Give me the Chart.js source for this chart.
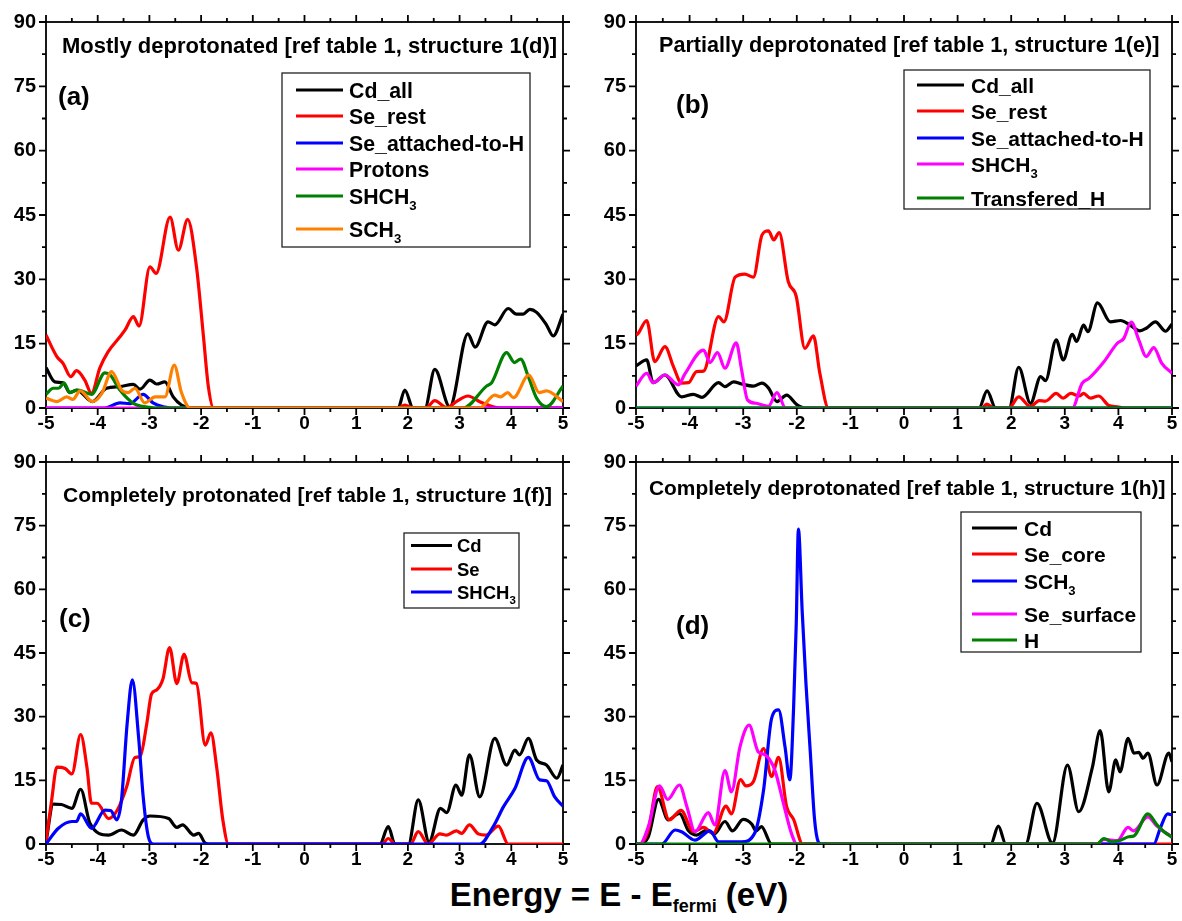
<!DOCTYPE html>
<html>
<head>
<meta charset="utf-8">
<script src="https://cdn.jsdelivr.net/npm/chart.js@4.4.1/dist/chart.umd.min.js"></script>
<style>
html, body { margin: 0; padding: 0; background: #fff; }
#page { position: relative; width: 1182px; height: 921px; overflow: hidden; font-family: "Liberation Sans", Arial, sans-serif; }
.panel { position: absolute; }
#xTitle { position: absolute; left: 0; width: 1238px; top: 880px; text-align: center; font-weight: bold; font-size: 33px; line-height: 30px; }
#xTitle sub { font-size: 18px; vertical-align: -6px; line-height: 0; }
</style>
</head>
<body>
<div id="page">
  <div class="panel" style="left:0;top:0;width:585px;height:440px"><canvas id="ca"></canvas></div>
  <div class="panel" style="left:585px;top:0;width:597px;height:440px"><canvas id="cb"></canvas></div>
  <div class="panel" style="left:0;top:440px;width:585px;height:436px"><canvas id="cc"></canvas></div>
  <div class="panel" style="left:585px;top:440px;width:597px;height:436px"><canvas id="cd"></canvas></div>
  <div id="xTitle">Energy = E - E<sub>fermi</sub> (eV)</div>
</div>
<script>
// energy axis and DOS axis ticks
const xTicks = [-5, -4, -3, -2, -1, 0, 1, 2, 3, 4, 5];
const yTicks = [0, 15, 30, 45, 60, 75, 90];

// ---- (a) mostly deprotonated ----
const aCdX = [-5, -4.83, -4.67, -4.54, -4.41, -4.1, -3.83, -3.57, -3.31, -3.18, -2.99, -2.86, -2.7, -2.54, -2.38, -2.19, 1.81, 1.94, 2.1, 2.33, 2.52, 2.81, 3.16, 3.3, 3.55, 3.68, 3.94, 4.1, 4.23, 4.36, 4.49, 4.68, 4.81, 5];
const aCdY = [9.4, 6.1, 5.9, 3.6, 4.2, 1.5, 4.6, 5.0, 5.5, 4.4, 6.5, 5.6, 6.1, 2.6, 0.7, 0, 0, 4.2, 0, 0, 9.0, 0.3, 17.3, 14.2, 20.1, 19.4, 23.2, 21.9, 21.9, 23, 22.3, 19.4, 16.8, 21.9];
const aSeX = [-5, -4.79, -4.67, -4.52, -4.41, -4.25, -4.12, -3.96, -3.8, -3.57, -3.47, -3.31, -3.2, -2.99, -2.87, -2.6, -2.44, -2.26, -2.09, -1.96, -1.86, -1.76, 1.8, 1.94, 2.1, 2.35, 2.52, 2.75, 2.95, 3.16, 3.4, 3.65, 3.8, 5];
const aSeY = [17.0, 12, 10.4, 7.3, 8.7, 6.5, 3.4, 9.3, 13.1, 16.6, 18.2, 21.3, 19.1, 32.9, 31.4, 44.5, 36.8, 44, 33, 17.4, 5, 0, 0, 0.7, 0, 0, 1.7, 0.1, 1.6, 2.8, 1.4, 0.3, 0, 0];
const aSeHX = [-5, -3.86, -3.57, -3.38, -3.12, -2.93, -2.7, -2.6, 5];
const aSeHY = [0, 0, 1.2, 1.0, 3.2, 1.2, 0.2, 0, 0];
const aProX = [-5, 5];
const aProY = [0, 0];
const aShX = [-5, -4.86, -4.76, -4.65, -4.54, -4.38, -4.12, -3.86, -3.76, -3.57, -3.31, -3.05, -2.9, 3.07, 3.52, 3.62, 3.91, 4.06, 4.18, 4.33, 4.49, 4.68, 5];
const aShY = [3.2, 4.6, 4.6, 5.8, 3.6, 4.2, 3.2, 8.2, 7.7, 4.2, 1.1, 0.2, 0, 0, 5.1, 5.9, 12.9, 10.6, 11.4, 7.3, 2.3, 0.3, 5.1];
const aSchX = [-5, -4.79, -4.6, -4.48, -4.34, -4.1, -3.92, -3.73, -3.54, -3.41, -3.28, -3.09, -2.89, -2.7, -2.52, -2.38, -2.21, 3.39, 3.68, 3.79, 3.93, 4.04, 4.34, 4.54, 4.68, 5];
const aSchY = [2.3, 1.5, 2.6, 2.0, 4.0, 1.5, 3.4, 8.5, 4.2, 3.6, 4.6, 1.2, 2.6, 2.6, 10.0, 3.6, 0, 0, 3.0, 2.6, 3.6, 2.4, 7.7, 3.6, 4.0, 1.5];

// ---- (b) partially deprotonated ----
const bCdX = [-5, -4.8, -4.68, -4.46, -4.15, -3.93, -3.77, -3.46, -3.34, -3.18, -3.03, -2.81, -2.65, -2.53, -2.37, -2.19, -2.0, -1.85, 1.4, 1.55, 1.71, 1.96, 2.14, 2.36, 2.55, 2.64, 2.84, 2.97, 3.14, 3.22, 3.35, 3.43, 3.61, 3.85, 4.04, 4.22, 4.4, 4.52, 4.69, 4.88, 5];
const bCdY = [9.8, 11.2, 5.9, 7.7, 2.6, 3.2, 2.5, 5.9, 5.0, 6.1, 5.6, 5.1, 5.8, 4.7, 1.5, 3.0, 0.8, 0, 0, 4.0, 0, 0, 9.5, 1.1, 7.3, 6.4, 15.9, 11.2, 17.2, 15.5, 19.3, 17.8, 24.5, 20.1, 20.4, 19.3, 18.0, 18.6, 20.1, 17.9, 19.6];
const bSeX = [-5, -4.96, -4.8, -4.65, -4.46, -4.3, -4.15, -4.02, -3.87, -3.74, -3.46, -3.36, -3.15, -2.97, -2.81, -2.65, -2.53, -2.43, -2.33, -2.16, -2.01, -1.85, -1.69, -1.57, -1.41, 1.46, 1.54, 1.68, 1.96, 2.14, 2.36, 2.52, 2.64, 2.84, 2.97, 3.11, 3.27, 3.35, 3.48, 3.63, 3.82, 3.98, 4.1, 5];
const bSeY = [17.0, 17.4, 20.4, 10.8, 14.3, 9.6, 5.8, 5.9, 8.5, 8.6, 21.3, 20.1, 30.5, 31.2, 30.5, 40.3, 41.3, 39.2, 40.9, 29.5, 26, 13.9, 16.8, 8.1, 0, 0, 0.9, 0, 0, 2.6, 0.3, 1.7, 1.6, 3.4, 2.3, 3.4, 2.8, 3.4, 2.3, 2.8, 0.6, 0.3, 0, 0];
const bSeHX = [-5, 5];
const bSeHY = [0, 0];
const bShX = [-5, -4.8, -4.68, -4.46, -4.21, -4.09, -3.74, -3.62, -3.48, -3.34, -3.13, -3.03, -2.92, -2.76, -2.53, -2.37, -2.21, 3.14, 3.32, 3.45, 3.73, 3.98, 4.1, 4.24, 4.38, 4.52, 4.66, 4.81, 5];
const bShY = [5.1, 8.1, 5.9, 7.7, 5.4, 7.9, 13.5, 10.6, 12.9, 9.3, 15.2, 8.9, 1.9, 1.1, 0.4, 3.6, 0, 0, 5.7, 6.9, 10.8, 15.1, 16.2, 20.0, 15.9, 12.0, 14.1, 10.4, 8.1];
const bTrX = [-5, 5];
const bTrY = [0, 0];

// ---- (c) completely protonated ----
const cCdX = [-5, -4.86, -4.7, -4.5, -4.33, -4.15, -3.79, -3.54, -3.31, -3.12, -2.99, -2.63, -2.47, -2.36, -2.14, -2.05, -1.92, -1.85, 1.46, 1.62, 1.75, 2.01, 2.2, 2.41, 2.63, 2.75, 2.93, 3.04, 3.19, 3.39, 3.68, 3.91, 4.07, 4.16, 4.33, 4.49, 4.68, 4.88, 5];
const cCdY = [0.5, 9.4, 9.3, 8.4, 12.9, 4.9, 2.1, 3.3, 2.1, 5.7, 6.6, 6.0, 3.9, 4.5, 2.1, 2.5, 0.2, 0, 0, 4.1, 0, 0, 10.4, 0.5, 8.4, 7.4, 13.9, 11.5, 21.0, 11.1, 24.9, 18.6, 22.1, 21.0, 24.9, 19.8, 18.6, 15.5, 18.6];
const cSeX = [-5, -4.89, -4.79, -4.63, -4.5, -4.33, -4.21, -4.12, -4.01, -3.79, -3.62, -3.44, -3.28, -3.18, -3.05, -2.96, -2.86, -2.74, -2.61, -2.47, -2.33, -2.18, -2.09, -1.92, -1.81, -1.7, -1.58, -1.47, 1.5, 1.62, 1.75, 2.05, 2.2, 2.39, 2.62, 2.75, 2.94, 3.04, 3.19, 3.36, 3.51, 3.75, 3.94, 5];
const cSeY = [0.5, 10.4, 18.1, 17.8, 16.5, 25.8, 18.2, 9.6, 9.6, 6.0, 8.0, 13.5, 20.4, 20.6, 28.4, 35.3, 36.3, 38.8, 46.3, 37.8, 44.7, 38.0, 37.8, 23.3, 26.2, 18.2, 5.7, 0, 0, 1.3, 0, 0, 2.9, 0, 2.4, 2.1, 3.1, 2.5, 4.5, 2.4, 2.1, 4.2, 0, 0];
const cShX = [-5, -4.76, -4.5, -4.41, -4.33, -4.12, -3.86, -3.75, -3.63, -3.54, -3.43, -3.33, -3.21, -3.12, -3.02, -2.92, 3.39, 3.65, 3.85, 4.07, 4.33, 4.55, 4.68, 4.84, 5];
const cShY = [0, 3.7, 5.3, 5.3, 7.1, 3.7, 8.0, 7.9, 5.7, 10.4, 28.4, 38.7, 25.3, 11.1, 1.7, 0, 0, 4.1, 8.8, 13.1, 20.4, 15.1, 14.9, 11.1, 8.9];

// ---- (d) completely deprotonated ----
const dCdX = [-5, -4.93, -4.77, -4.58, -4.4, -4.19, -4.02, -3.87, -3.68, -3.54, -3.34, -3.2, -3.0, -2.84, -2.76, -2.66, -2.47, 1.62, 1.76, 1.9, 2.27, 2.48, 2.77, 3.05, 3.26, 3.51, 3.66, 3.82, 3.95, 4.03, 4.18, 4.29, 4.38, 4.46, 4.55, 4.72, 4.94, 5];
const dCdY = [0, 0, 1.7, 10.5, 5.7, 7.2, 3.1, 2.1, 3.3, 2.4, 5.3, 3.1, 5.8, 4.7, 3.1, 4.1, 0, 0, 4.2, 0, 0, 9.6, 0.2, 18.6, 7.6, 17.8, 26.7, 12.3, 19.8, 17.0, 24.9, 21.4, 21.6, 20.2, 21.4, 13.9, 21.4, 19.4];
const dCoreX = [-5, -4.93, -4.77, -4.6, -4.38, -4.16, -3.93, -3.74, -3.56, -3.32, -3.22, -3.05, -2.95, -2.81, -2.62, -2.47, -2.34, -2.19, -2.06, -1.89, 5];
const dCoreY = [0, 0, 3.3, 13.5, 5.7, 7.9, 2.9, 3.9, 2.5, 8.9, 7.1, 15.2, 13.7, 14.7, 22.5, 15.9, 20.4, 8.8, 5.8, 0, 0];
const dSchX = [-5, -4.52, -4.27, -4.15, -3.9, -3.62, -3.46, -3.03, -2.78, -2.62, -2.47, -2.34, -2.22, -2.13, -2.06, -2.01, -1.97, -1.9, -1.83, -1.75, -1.67, -1.6, -1.55, 4.66, 4.78, 4.92, 5];
const dSchY = [0, 0, 3.3, 2.9, 0.9, 3.1, 0.5, 0.5, 2.7, 12.7, 29.6, 31.6, 22.9, 15.1, 32, 52, 74.2, 55, 38, 22, 6, 0.5, 0, 0, 3.7, 7.1, 6.8];
const dSurfX = [-5, -4.93, -4.77, -4.56, -4.41, -4.19, -4.05, -3.9, -3.65, -3.53, -3.34, -3.22, -3.06, -2.89, -2.72, -2.59, -2.41, -2.25, -2.1, -2.0, 3.6, 3.73, 3.98, 4.18, 4.28, 4.55, 4.72, 5];
const dSurfY = [0, 0, 4.1, 13.7, 10.5, 13.9, 8.8, 2.9, 7.4, 4.5, 17.3, 12.3, 22.9, 28.0, 21.7, 21.0, 17.4, 9.6, 2.5, 0, 0, 1.1, 0.8, 3.9, 3.1, 6.4, 4.2, 1.6];
const dHX = [-5, 3.6, 3.73, 3.88, 4.04, 4.19, 4.29, 4.55, 4.72, 4.85, 5];
const dHY = [0, 0, 1.3, 0.5, 0.9, 1.7, 1.9, 7.1, 4.5, 2.9, 1.6];

const BLACK = '#000000', RED = '#ff0000', BLUE = '#0000ff', MAGENTA = '#ff00ff', GREEN = '#008000', ORANGE = '#ff8000';
const FONT = '"Liberation Sans", Arial, sans-serif';

// layout of the four panels, page pixels
const PANELS = [
    {
        canvas: 'ca', offX: 0, offY: 0, yWidth: 46, padRight: 22,
        title: 'Mostly deprotonated [ref table 1, structure 1(d)]', titleX: 62, titleY: 53, titleSize: 22,
        tag: '(a)', tagX: 58, tagY: 105,
        legend: { box: [282, 73, 530, 247], rows: [90, 116, 143, 169, 196, 229], line: [296, 343], textX: 349, size: 21.3 },
        series: [
            ['Cd_all', BLACK, aCdX, aCdY],
            ['Se_rest', RED, aSeX, aSeY],
            ['Se_attached-to-H', BLUE, aSeHX, aSeHY],
            ['Protons', MAGENTA, aProX, aProY],
            ['SHCH{3}', GREEN, aShX, aShY],
            ['SCH{3}', ORANGE, aSchX, aSchY]
        ]
    },
    {
        canvas: 'cb', offX: 585, offY: 0, yWidth: 51, padRight: 10,
        title: 'Partially deprotonated [ref table 1, structure 1(e)]', titleX: 659, titleY: 52, titleSize: 21.6,
        tag: '(b)', tagX: 676, tagY: 113,
        legend: { box: [904, 70, 1150, 209], rows: [85, 111, 138, 164, 198], line: [917, 964], textX: 971, size: 21 },
        series: [
            ['Cd_all', BLACK, bCdX, bCdY],
            ['Se_rest', RED, bSeX, bSeY],
            ['Se_attached-to-H', BLUE, bSeHX, bSeHY],
            ['SHCH{3}', MAGENTA, bShX, bShY],
            ['Transfered_H', GREEN, bTrX, bTrY]
        ]
    },
    {
        canvas: 'cc', offX: 0, offY: 440, yWidth: 46, padRight: 22,
        title: 'Completely protonated [ref table 1, structure 1(f)]', titleX: 63, titleY: 502, titleSize: 21,
        tag: '(c)', tagX: 59, tagY: 627,
        legend: { box: [404, 533, 519, 608], rows: [545.5, 569, 592], line: [411, 452], textX: 457, size: 18.5 },
        series: [
            ['Cd', BLACK, cCdX, cCdY],
            ['Se', RED, cSeX, cSeY],
            ['SHCH{3}', BLUE, cShX, cShY]
        ]
    },
    {
        canvas: 'cd', offX: 585, offY: 440, yWidth: 51, padRight: 10,
        title: 'Completely deprotonated [ref table 1, structure 1(h)]', titleX: 649, titleY: 495, titleSize: 20.9,
        tag: '(d)', tagX: 676, tagY: 634,
        legend: { box: [961, 512, 1141, 652], rows: [528, 554, 581, 614, 640], line: [972, 1017], textX: 1024, size: 21 },
        series: [
            ['Cd', BLACK, dCdX, dCdY],
            ['Se_core', RED, dCoreX, dCoreY],
            ['SCH{3}', BLUE, dSchX, dSchY],
            ['Se_surface', MAGENTA, dSurfX, dSurfY],
            ['H', GREEN, dHX, dHY]
        ]
    }
];

function toPoints(xs, ys) {
    return xs.map(function (x, i) { return { x: x, y: ys[i] }; });
}

// text with {subscript} parts
function drawRich(ctx, text, x, y, size) {
    let cx = x;
    text.split(/(\{[^}]*\})/).forEach(function (part) {
        if (!part) return;
        if (part[0] === '{') {
            const s = part.slice(1, -1);
            ctx.font = 'bold ' + (size * 0.62) + 'px ' + FONT;
            ctx.fillText(s, cx, y + size * 0.3);
            cx += ctx.measureText(s).width;
        } else {
            ctx.font = 'bold ' + size + 'px ' + FONT;
            ctx.fillText(part, cx, y);
            cx += ctx.measureText(part).width;
        }
    });
}

function makeDecor(panel) {
    return {
        id: 'decor_' + panel.canvas,
        beforeDatasetsDraw: function (chart) {
            const ctx = chart.ctx, a = chart.chartArea;
            const xs = chart.scales.x, ys = chart.scales.y;
            ctx.save();
            ctx.strokeStyle = '#000';
            ctx.lineWidth = 1.8;
            ctx.strokeRect(a.left, a.top, a.right - a.left, a.bottom - a.top);
            ctx.beginPath();
            for (let k = 0; k <= 20; k++) {
                const px = xs.getPixelForValue(-5 + k * 0.5);
                const len = k % 2 === 0 ? 7 : 4;
                ctx.moveTo(px, a.bottom); ctx.lineTo(px, a.bottom + len);
                ctx.moveTo(px, a.top); ctx.lineTo(px, a.top - len);
            }
            for (let k = 0; k <= 12; k++) {
                const py = ys.getPixelForValue(k * 7.5);
                const len = k % 2 === 0 ? 7 : 4;
                ctx.moveTo(a.left, py); ctx.lineTo(a.left - len, py);
                ctx.moveTo(a.right, py); ctx.lineTo(a.right + len, py);
            }
            ctx.stroke();
            ctx.restore();
        },
        afterDatasetsDraw: function (chart) {
            const ctx = chart.ctx;
            const ox = panel.offX, oy = panel.offY;
            ctx.save();
            ctx.fillStyle = '#000';
            ctx.textBaseline = 'alphabetic';
            ctx.textAlign = 'left';
            ctx.font = 'bold ' + panel.titleSize + 'px ' + FONT;
            ctx.fillText(panel.title, panel.titleX - ox, panel.titleY - oy);
            ctx.font = 'bold 26px ' + FONT;
            ctx.fillText(panel.tag, panel.tagX - ox, panel.tagY - oy);

            const lg = panel.legend;
            const b = lg.box;
            ctx.fillStyle = '#fff';
            ctx.fillRect(b[0] - ox, b[1] - oy, b[2] - b[0], b[3] - b[1]);
            ctx.strokeStyle = '#222';
            ctx.lineWidth = 1.3;
            ctx.strokeRect(b[0] - ox, b[1] - oy, b[2] - b[0], b[3] - b[1]);
            panel.series.forEach(function (s, i) {
                const y = lg.rows[i] - oy;
                ctx.strokeStyle = s[1];
                ctx.lineWidth = 3.2;
                ctx.beginPath();
                ctx.moveTo(lg.line[0] - ox, y);
                ctx.lineTo(lg.line[1] - ox, y);
                ctx.stroke();
                ctx.fillStyle = '#000';
                drawRich(ctx, s[0], lg.textX - ox, y + lg.size * 0.36, lg.size);
            });
            ctx.restore();
        }
    };
}

function buildPanel(panel) {
    const n = panel.series.length;
    const datasets = panel.series.map(function (s, i) {
        return {
            label: s[0].replace(/[{}]/g, ''),
            data: toPoints(s[2], s[3]),
            borderColor: s[1],
            backgroundColor: s[1],
            borderWidth: 3.2,
            pointRadius: 0,
            fill: false,
            cubicInterpolationMode: 'monotone',
            order: n - i   // later series on top, as in the original
        };
    });

    new Chart(document.getElementById(panel.canvas), {
        type: 'line',
        data: { datasets: datasets },
        options: {
            responsive: true,
            maintainAspectRatio: false,
            animation: false,
            events: [],
            layout: { padding: { top: 22, right: panel.padRight, left: 0, bottom: 0 } },
            plugins: { legend: { display: false }, tooltip: { enabled: false } },
            scales: {
                x: {
                    type: 'linear',
                    min: xTicks[0],
                    max: xTicks[xTicks.length - 1],
                    afterBuildTicks: function (scale) { scale.ticks = xTicks.map(function (v) { return { value: v }; }); },
                    afterFit: function (scale) { scale.height = 32; },
                    grid: { display: false, drawTicks: false },
                    border: { display: false },
                    ticks: {
                        padding: 4, maxRotation: 0, autoSkip: false, color: '#000',
                        font: { family: FONT, size: 19, weight: 'bold' },
                        callback: function (v) { return String(v); }
                    }
                },
                y: {
                    min: yTicks[0],
                    max: yTicks[yTicks.length - 1],
                    afterBuildTicks: function (scale) { scale.ticks = yTicks.map(function (v) { return { value: v }; }); },
                    afterFit: function (scale) { scale.width = panel.yWidth; },
                    grid: { display: false, drawTicks: false },
                    border: { display: false },
                    ticks: {
                        padding: 10, color: '#000',
                        font: { family: FONT, size: 20, weight: 'bold' },
                        callback: function (v) { return String(v); }
                    }
                }
            }
        },
        plugins: [makeDecor(panel)]
    });
}

PANELS.forEach(buildPanel);
</script>
</body>
</html>
